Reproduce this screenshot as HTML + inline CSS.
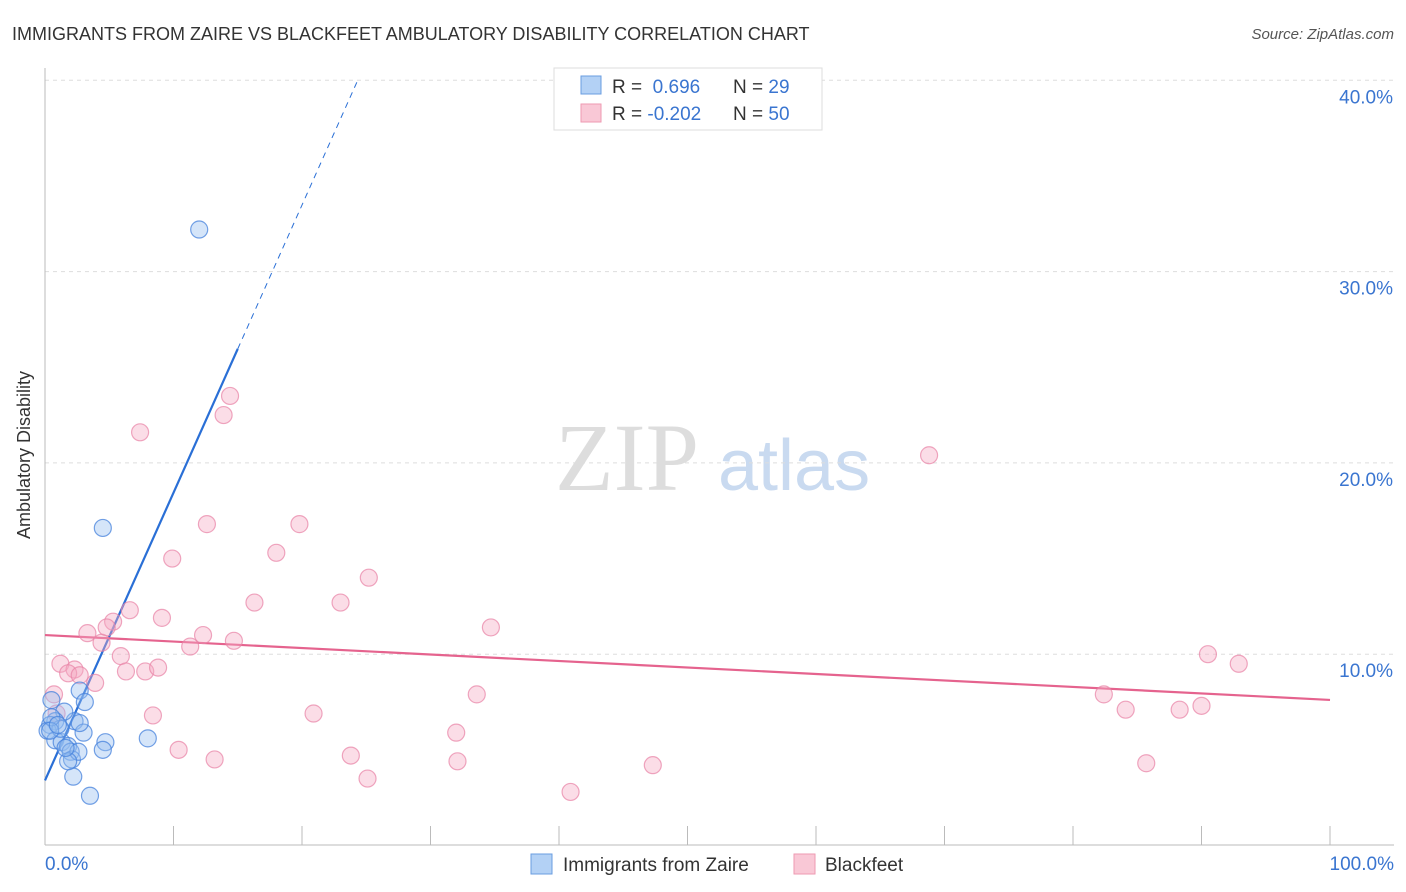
<!DOCTYPE html>
<html><head><meta charset="utf-8"><style>
body{margin:0;background:#fff;font-family:"Liberation Sans",sans-serif}
svg{display:block}
</style></head><body>
<svg id="c" width="1406" height="892" xmlns="http://www.w3.org/2000/svg">
<text x="12" y="40" font-size="18" fill="#333">IMMIGRANTS FROM ZAIRE VS BLACKFEET AMBULATORY DISABILITY CORRELATION CHART</text>
<text x="1394" y="39" font-size="15" fill="#555" font-style="italic" text-anchor="end">Source: ZipAtlas.com</text>
<text x="30" y="455" font-size="18" fill="#333" transform="rotate(-90 30 455)" text-anchor="middle">Ambulatory Disability</text>
<g><text x="555" y="490" font-size="96" fill="#ddd" font-family="Liberation Serif,serif">ZIP</text><text x="718" y="490" font-size="72" fill="#c9daf0">atlas</text></g>
<g id="grid"></g><g id="axes"></g><g id="lines"></g><g id="pts"></g>
<g>
<rect x="554" y="68" width="268" height="62" fill="#fff" stroke="#ddd"/>
<rect x="581" y="76" width="20" height="18" fill="#b3d1f5" stroke="#6a9de0"/>
<rect x="581" y="104" width="20" height="18" fill="#f9c8d6" stroke="#ee9ab2"/>
<text x="612" y="93" font-size="19" fill="#333">R = <tspan fill="#3a75d0">&#160;0.696</tspan><tspan x="733">N = </tspan><tspan fill="#3a75d0">29</tspan></text>
<text x="612" y="120" font-size="19" fill="#333">R = <tspan fill="#3a75d0">-0.202</tspan><tspan x="733">N = </tspan><tspan fill="#3a75d0">50</tspan></text>
</g>
<g>
<rect x="531" y="854" width="21" height="20" fill="#b3d1f5" stroke="#6a9de0"/>
<text x="563" y="871" font-size="19" fill="#333">Immigrants from Zaire</text>
<rect x="794" y="854" width="21" height="20" fill="#f9c8d6" stroke="#ee9ab2"/>
<text x="825" y="871" font-size="19" fill="#333">Blackfeet</text>
</g>
</svg>
<script>
const yTicks=[10,20,30,40];
const xTickLabels=["0.0%","100.0%"];
const zaireX=[12,4.5,0.5,2.7,3.1,2.3,1.5,0.8,0.4,0.2,0.8,1.3,1.8,2.0,2.1,2.6,3.0,4.7,4.5,8.0,2.2,3.5,1.8,1.2,0.5,0.4,1.0,1.6,2.7];
const zaireY=[32.2,16.6,7.6,8.1,7.5,6.5,7.0,6.5,6.3,6.0,5.5,5.4,5.2,4.9,4.5,4.9,5.9,5.4,5.0,5.6,3.6,2.6,4.4,6.1,6.7,6.0,6.3,5.1,6.4];
const bfX=[7.4,14.4,13.9,68.8,12.6,19.8,9.9,18,25.2,16.3,23,6.6,9.1,5.3,4.8,3.3,12.3,14.7,11.3,4.4,5.9,1.2,2.3,1.8,6.3,7.8,8.8,2.7,3.9,0.7,0.9,8.4,20.9,33.6,34.7,10.4,13.2,23.8,25.1,32,32.1,40.9,47.3,90.5,92.9,82.4,84.1,88.3,90,85.7];
const bfY=[21.6,23.5,22.5,20.4,16.8,16.8,15,15.3,14,12.7,12.7,12.3,11.9,11.7,11.4,11.1,11,10.7,10.4,10.6,9.9,9.5,9.2,9.0,9.1,9.1,9.3,8.9,8.5,7.9,6.9,6.8,6.9,7.9,11.4,5.0,4.5,4.7,3.5,5.9,4.4,2.8,4.2,10,9.5,7.9,7.1,7.1,7.3,4.3];
const zaireFit=[0.16,1.117]; // intercept?, no: [start%,slope] used below
const zaireLine={a:3.4,b:1.504}; // y = a + b*x
const bfLine={a:11.0,b:-0.0339};
const X=v=>45+v*12.85, Y=v=>845.5-v*19.13;
const NS="http://www.w3.org/2000/svg";
function mk(p,t,a){const e=document.createElementNS(NS,t);for(const k in a)e.setAttribute(k,a[k]);p.appendChild(e);return e;}
const grid=document.getElementById('grid'),axes=document.getElementById('axes'),lines=document.getElementById('lines'),pts=document.getElementById('pts');
yTicks.forEach(t=>{
 const l=mk(grid,'line',{x1:45,x2:1394,y1:Y(t),y2:Y(t),stroke:'#ddd','stroke-dasharray':'4,4'});
 
 
 const tx=mk(grid,'text',{x:1393,y:Y(t)+23,'font-size':19,fill:'#3a75d0','text-anchor':'end'});tx.textContent=t.toFixed(1)+'%';
 
 
});
mk(axes,'line',{x1:45,x2:45,y1:68,y2:845,stroke:'#bbb'});
mk(axes,'line',{x1:45,x2:1394,y1:845,y2:845,stroke:'#bbb'});
for(let i=0;i<=10;i++){mk(axes,'line',{x1:X(i*10),x2:X(i*10),y1:826,y2:845,stroke:'#bbb'});}
const xl0=mk(axes,'text',{x:45,y:870,'font-size':19,fill:'#3a75d0'});xl0.textContent=xTickLabels[0];


const xl1=mk(axes,'text',{x:1394,y:870,'font-size':19,fill:'#3a75d0','text-anchor':'end'});xl1.textContent=xTickLabels[1];


bfX.forEach((x,i)=>{const c=mk(pts,'circle',{cx:X(x),cy:Y(bfY[i]),r:8.5,fill:'rgba(245,170,195,0.4)',stroke:'rgba(232,130,165,0.7)','stroke-width':1.2});
 
 });
zaireX.forEach((x,i)=>{const c=mk(pts,'circle',{cx:X(x),cy:Y(zaireY[i]),r:8.5,fill:'rgba(150,190,240,0.4)',stroke:'rgba(70,130,220,0.75)','stroke-width':1.2});
 
 });
const zx1=15,zx2=24.4,zf=x=>zaireLine.a+zaireLine.b*x;
const l1=mk(lines,'line',{x1:X(0),y1:Y(zf(0)),x2:X(zx1),y2:Y(zf(zx1)),stroke:'#2a6fd6','stroke-width':2.2});


const l2=mk(lines,'line',{x1:X(zx1),y1:Y(zf(zx1)),x2:X(zx2),y2:Y(zf(zx2)),stroke:'#2a6fd6','stroke-width':1,'stroke-dasharray':'6,5'});


const bf=x=>bfLine.a+bfLine.b*x;
const l3=mk(lines,'line',{x1:X(0),y1:Y(bf(0)),x2:X(100),y2:Y(bf(100)),stroke:'#e5638e','stroke-width':2.2});


</script>
</body></html>
